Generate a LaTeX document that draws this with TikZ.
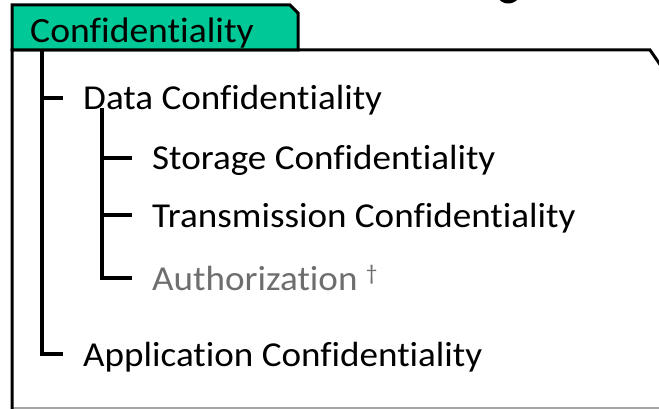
\documentclass[tikz,border=0pt]{standalone}
\usepackage{fontspec}
\setmainfont{Carlito}[Ligatures=NoCommon,FakeStretch=1.06]
\definecolor{tabgreen}{RGB}{0,200,150}
\definecolor{softgray}{RGB}{110,110,110}
\definecolor{rulegray}{RGB}{165,165,165}
\begin{document}
\begin{tikzpicture}[x=1pt,y=-1pt,
  frameline/.style={line width=3pt,line join=miter},
  treeline/.style={line width=3.4pt},
  item/.style={anchor=base west,inner xsep=20pt,inner ysep=0pt,
    text height=24pt,text depth=0pt,font=\fontsize{35}{40}\selectfont},
  tablabel/.style={anchor=base west,inner sep=0pt,font=\fontsize{35.5}{40}\selectfont}]
\useasboundingbox (0,0) rectangle (659,409);
\begin{scope}
\clip (0,0) rectangle (659,409);
% fragment of a large heading cut by the top edge
\fill (499,-1) .. controls (503,5) and (513,5) .. (518,-1) -- cycle;
% outer frame
\draw[rulegray,line width=1.5pt] (12,408) -- (670,408);
\draw[frameline] (12,409.5) -- (12,50) -- (650,50) -- (668,76);
% tab
\draw[frameline,fill=tabgreen] (12,50) -- (12,5) -- (290,5) -- (298,13) -- (298,50) -- cycle;
\end{scope}
\node[tablabel] (tab) at (30,43) {Confidentiality};
% tree items
\node[item] (data) at (63,110) {Data Confidentiality};
\node[item] (stor) at (132,170) {Storage Confidentiality};
\node[item] (trans) at (132,227) {Transmission Confidentiality};
\node[item,text=softgray] (auth) at (132,290) {Authorization \raisebox{10pt}{\fontsize{22}{22}\selectfont †}};
\node[item] (app) at (63,366) {Application Confidentiality};
% tree connectors
\coordinate (root) at (42,50);
\coordinate (dtrunk) at (102,108);
\draw[treeline] (root) |- (data.west);
\draw[treeline] (root) |- (app.west);
\draw[treeline] (dtrunk) |- (stor.west);
\draw[treeline] (dtrunk) |- (trans.west);
\draw[treeline] (dtrunk) |- (auth.west);
\end{tikzpicture}
\end{document}
